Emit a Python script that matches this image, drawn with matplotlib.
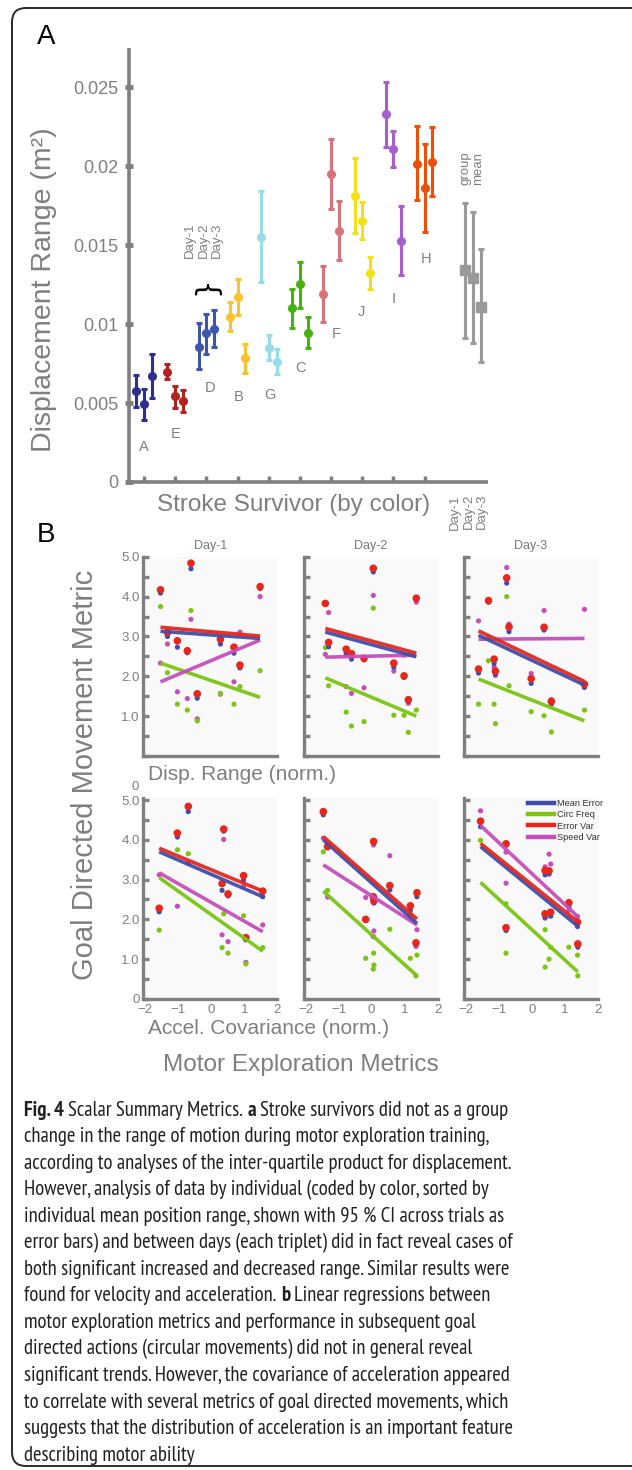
import numpy as np
import matplotlib
matplotlib.use("Agg")
import matplotlib.pyplot as plt
from matplotlib.lines import Line2D
from matplotlib.patches import FancyBboxPatch
from matplotlib import font_manager as fm

# ======================= DATA =======================
# ---- Panel A: displacement range per survivor and day (mean, 95% CI) ----
subjects = ["A", "E", "D", "B", "G", "C", "F", "J", "I", "H"]
subject_colors = ["#2e2e8e", "#b3221f", "#3d55ad", "#fcc22c", "#95dde9",
                  "#45b20f", "#d9727a", "#f5e016", "#a65fcb", "#e8500c"]
day1_mean = [0.00576, 0.00698, 0.00857, 0.01047, 0.01555, 0.01100, 0.01191, 0.01813, 0.02329, 0.02018]
day1_low = [0.00476, 0.00654, 0.00713, 0.00954, 0.01265, 0.00977, 0.01011, 0.01576, 0.02124, 0.01786]
day1_high = [0.00677, 0.00747, 0.01009, 0.01140, 0.01845, 0.01223, 0.01371, 0.02054, 0.02536, 0.02255]
day2_mean = [0.00493, 0.00544, 0.00942, 0.01170, 0.00850, 0.01253, 0.01954, 0.01656, 0.02109, 0.01862]
day2_low = [0.00391, 0.00470, 0.00812, 0.01056, 0.00772, 0.01104, 0.01732, 0.01542, 0.01999, 0.01582]
day2_high = [0.00588, 0.00607, 0.01066, 0.01286, 0.00931, 0.01392, 0.02176, 0.01775, 0.02225, 0.02143]
day3_mean = [0.00673, 0.00514, 0.00971, 0.00783, 0.00761, 0.00945, 0.01591, 0.01322, 0.01527, 0.02027]
day3_low = [0.00533, 0.00444, 0.00857, 0.00692, 0.00683, 0.00846, 0.01405, 0.01221, 0.01312, 0.01811]
day3_high = [0.00810, 0.00582, 0.01090, 0.00874, 0.00842, 0.01043, 0.01781, 0.01424, 0.01749, 0.02251]
group_mean = [0.01343, 0.01291, 0.01110]
group_low = [0.00914, 0.00878, 0.00758]
group_high = [0.01768, 0.01713, 0.01478]
day_labels = ["Day-1", "Day-2", "Day-3"]
a_yticks = [0, 0.005, 0.01, 0.015, 0.02, 0.025]
a_yticklabels = ["0", "0.005", "0.01", "0.015", "0.02", "0.025"]

# ---- Panel B: metrics vs. normalised exploration metrics ----
metric_names = ["Mean Error", "Circ Freq", "Error Var", "Speed Var"]
metric_colors = ["#3f4ea8", "#7cc514", "#e8261c", "#c64fba"]

# top row: Disp. Range (norm.)
disp_x_day1 = [-1.53, -1.32, -1.02, -0.72, -0.61, -0.42, 0.28, 0.69, 0.87, 1.48]
disp_mean_error_day1 = [4.09, 3.00, 2.73, 2.59, 4.70, 1.45, 2.81, 2.58, 2.21, 4.20]
disp_circ_freq_day1 = [3.75, 2.09, 1.30, 1.15, 3.65, 0.88, 1.57, 1.30, 1.74, 2.14]
disp_error_var_day1 = [4.17, 3.10, 2.89, 2.64, 4.84, 1.56, 2.93, 2.73, 2.28, 4.25]
disp_speed_var_day1 = [2.33, 2.81, 1.61, 1.44, 3.43, 0.93, 1.55, 1.86, 3.11, 4.00]
disp_fit_start_day1 = [3.13, 2.33, 3.23, 1.86]
disp_fit_end_day1 = [2.95, 1.47, 3.01, 2.91]

disp_x_day2 = [-1.40, -1.30, -0.77, -0.61, -0.23, 0.05, 0.67, 0.98, 1.11, 1.35]
disp_mean_error_day2 = [3.80, 2.74, 2.58, 2.43, 2.41, 4.62, 2.23, 1.97, 1.37, 3.92]
disp_circ_freq_day2 = [2.72, 1.76, 1.10, 0.75, 0.86, 3.71, 1.02, 1.02, 0.59, 1.15]
disp_error_var_day2 = [3.83, 2.85, 2.68, 2.57, 2.45, 4.71, 2.33, 2.01, 1.41, 3.96]
disp_speed_var_day2 = [2.55, 3.60, 1.74, 1.57, 1.71, 4.03, 2.13, 2.53, 1.32, 3.86]
disp_fit_start_day2 = [3.11, 1.96, 3.20, 2.48]
disp_fit_end_day2 = [2.49, 1.00, 2.58, 2.53]

disp_x_day3 = [-1.61, -1.31, -1.14, -1.10, -0.76, -0.69, -0.02, 0.37, 0.59, 1.59]
disp_mean_error_day3 = [2.08, 3.86, 2.32, 2.05, 4.34, 3.12, 1.82, 3.16, 1.30, 1.72]
disp_circ_freq_day3 = [1.30, 2.39, 1.30, 0.81, 4.00, 1.76, 1.11, 1.01, 0.60, 1.15]
disp_error_var_day3 = [2.18, 3.90, 2.43, 2.13, 4.47, 3.24, 1.94, 3.23, 1.37, 1.80]
disp_speed_var_day3 = [3.39, 2.95, 2.23, 2.02, 4.73, 3.31, 2.07, 3.65, 1.41, 3.68]
disp_fit_start_day3 = [3.03, 1.93, 3.14, 2.93]
disp_fit_end_day3 = [1.78, 0.88, 1.87, 2.95]

# bottom row: Accel. Covariance (norm.)
acc_x_day1 = [-1.57, -1.02, -0.69, 0.33, 0.38, 0.51, 0.98, 1.05, 1.56]
acc_mean_error_day1 = [2.19, 4.07, 4.71, 2.73, 4.22, 2.59, 2.99, 1.49, 2.57]
acc_circ_freq_day1 = [1.73, 3.75, 3.65, 1.29, 2.14, 1.15, 2.09, 0.88, 1.29]
acc_error_var_day1 = [2.28, 4.17, 4.84, 2.90, 4.27, 2.64, 3.10, 1.54, 2.71]
acc_speed_var_day1 = [3.12, 2.33, 3.42, 1.61, 4.01, 1.44, 2.82, 0.92, 1.86]
acc_fit_start_day1 = [3.70, 3.05, 3.79, 3.17]
acc_fit_end_day1 = [2.57, 1.20, 2.71, 1.69]

acc_x_day2 = [-1.46, -1.33, -0.18, 0.05, 0.06, 0.07, 0.55, 1.17, 1.34, 1.37]
acc_mean_error_day2 = [4.63, 3.80, 1.97, 2.43, 3.92, 2.41, 2.74, 2.23, 1.37, 2.57]
acc_circ_freq_day2 = [3.70, 2.73, 1.02, 0.75, 1.15, 0.85, 1.75, 1.02, 0.58, 1.10]
acc_error_var_day2 = [4.71, 3.83, 2.00, 2.57, 3.96, 2.47, 2.85, 2.34, 1.41, 2.67]
acc_speed_var_day2 = [4.04, 2.56, 2.55, 1.57, 3.87, 1.71, 3.60, 2.11, 1.32, 1.74]
acc_fit_start_day2 = [4.00, 2.71, 4.08, 3.37]
acc_fit_end_day2 = [1.90, 0.58, 2.01, 1.86]

acc_x_day3 = [-1.55, -0.78, -0.78, 0.40, 0.40, 0.52, 0.57, 1.12, 1.38, 1.39]
acc_mean_error_day3 = [4.33, 3.86, 1.72, 3.12, 2.05, 3.14, 2.08, 2.32, 1.82, 1.30]
acc_circ_freq_day3 = [3.99, 2.39, 1.15, 1.74, 0.80, 1.00, 1.30, 1.30, 1.10, 0.58]
acc_error_var_day3 = [4.47, 3.90, 1.79, 3.23, 2.14, 3.22, 2.18, 2.42, 1.93, 1.38]
acc_speed_var_day3 = [4.73, 2.91, 3.69, 3.32, 2.03, 3.64, 3.39, 2.23, 2.07, 1.41]
acc_fit_start_day3 = [3.83, 2.93, 3.91, 4.36]
acc_fit_end_day3 = [1.83, 0.68, 1.94, 2.07]

b_yticks = [0, 1, 2, 3, 4, 5]
b_yticklabels = ["0", "1.0", "2.0", "3.0", "4.0", "5.0"]
b_xticks = [-2, -1, 0, 1, 2]

caption_lines = [
    [("Fig. 4", True), ("Scalar Summary Metrics.", False), ("a", True),
     ("Stroke survivors did not as a group", False)],
    [("change in the range of motion during motor exploration training,", False)],
    [("according to analyses of the inter-quartile product for displacement.", False)],
    [("However, analysis of data by individual (coded by color, sorted by", False)],
    [("individual mean position range, shown with 95 % CI across trials as", False)],
    [("error bars) and between days (each triplet) did in fact reveal cases of", False)],
    [("both significant increased and decreased range. Similar results were", False)],
    [("found for velocity and acceleration.", False), ("b", True),
     ("Linear regressions between", False)],
    [("motor exploration metrics and performance in subsequent goal", False)],
    [("directed actions (circular movements) did not in general reveal", False)],
    [("significant trends. However, the covariance of acceleration appeared", False)],
    [("to correlate with several metrics of goal directed movements, which", False)],
    [("suggests that the distribution of acceleration is an important feature", False)],
    [("describing motor ability", False)],
]

# ======================= FIGURE =======================
W, H, DPI = 632, 1470, 100
plt.rcParams["font.family"] = ["Liberation Sans", "DejaVu Sans"]
fig = plt.figure(figsize=(W / DPI, H / DPI), dpi=DPI)
fig.patch.set_facecolor("white")
GRAY = "#808080"
TXT = "#7f7f7f"


def ax_px(l, t, r, b):
    return fig.add_axes([l / W, 1 - b / H, (r - l) / W, (b - t) / H])


def ftext(x, y, s, **kw):
    return fig.text(x / W, 1 - y / H, s, **kw)


# border
border = FancyBboxPatch((12, H - 1466), 660, 1458,
                        boxstyle="round,pad=0,rounding_size=14",
                        transform=None, fill=False, lw=1.4, ec="#2a2a2a")
fig.patches.append(border)

# ---------------- Panel A ----------------
axA = ax_px(129, 48, 488, 482)
axA.set_xlim(0.52, 12.03)
axA.set_ylim(0, 0.0275)
for s in ["top", "right"]:
    axA.spines[s].set_visible(False)
for s in ["left", "bottom"]:
    axA.spines[s].set_color(GRAY)
    axA.spines[s].set_linewidth(2.6)
    axA.spines[s].set_capstyle("butt")
xs = np.arange(1, len(subjects) + 1)
offsets = [-0.25, 0.0, 0.25]
means = [day1_mean, day2_mean, day3_mean]
lows = [day1_low, day2_low, day3_low]
highs = [day1_high, day2_high, day3_high]
for i, col in enumerate(subject_colors):
    for d in range(3):
        m = means[d][i]
        axA.errorbar(xs[i] + offsets[d], m,
                     yerr=[[m - lows[d][i]], [highs[d][i] - m]],
                     fmt="o", color=col, ms=5.5, elinewidth=2.2,
                     capsize=2.3, capthick=2.2, clip_on=False)
gx = len(subjects) + 1.29
for d in range(3):
    m = group_mean[d]
    axA.errorbar(gx + 0.25 * d, m, yerr=[[m - group_low[d]], [group_high[d] - m]],
                 fmt="s", color="#9a9a9a", ms=6.5, elinewidth=2.2,
                 capsize=2.3, capthick=2.2, clip_on=False)
axA.set_yticks(a_yticks)
axA.set_yticklabels(a_yticklabels)
axA.set_xticks(xs)
axA.set_xticklabels([])
axA.tick_params(axis="y", direction="inout", length=6, width=3.5, color=GRAY,
                labelcolor=TXT, labelsize=13, pad=4.5)
axA.tick_params(axis="x", direction="in", length=4, width=2.5, color=GRAY)

# survivor letters (layout positions)
letter_dx = [0, 0, 0.12, 0.04, 0.04, 0.03, 0.15, -0.04, 0.01, 0.04]
letter_y = [0.00223, 0.00302, 0.00594, 0.00539, 0.0055, 0.0072, 0.0094, 0.0108, 0.0116, 0.0141]
for i, name in enumerate(subjects):
    axA.text(xs[i] + letter_dx[i], letter_y[i], name, ha="center", va="center",
             color=TXT, fontsize=10.5)
# brace over triplet D
axA.text(3.0, 0.01245, "}", rotation=90, ha="center", va="center",
         fontsize=21, color="black", family="DejaVu Sans")
for k, lab in enumerate(day_labels):
    ftext(190 + 13.5 * k, 258, lab, rotation=90, ha="center", va="bottom",
          color=TXT, fontsize=9.5)
    ftext(455 + 13.5 * k, 494, lab, rotation=90, ha="center", va="top",
          color=TXT, fontsize=9.5)
ftext(465, 185, "group", rotation=90, ha="center", va="bottom", color=TXT, fontsize=9.5)
ftext(478, 185, "mean", rotation=90, ha="center", va="bottom", color=TXT, fontsize=9.5)
ftext(294, 505, "Stroke Survivor (by color)", ha="center", va="center",
      color=TXT, fontsize=17.5)
ftext(44, 290, "Displacement Range (m²)", rotation=90, ha="center", va="center",
      color=TXT, fontsize=20.5)
ftext(37, 37, "A", ha="left", va="center", fontsize=20, color="black")
ftext(37, 535, "B", ha="left", va="center", fontsize=20, color="black")

# ---------------- Panel B ----------------
panels = [
    [(disp_x_day1, [disp_mean_error_day1, disp_circ_freq_day1, disp_error_var_day1, disp_speed_var_day1],
      disp_fit_start_day1, disp_fit_end_day1),
     (disp_x_day2, [disp_mean_error_day2, disp_circ_freq_day2, disp_error_var_day2, disp_speed_var_day2],
      disp_fit_start_day2, disp_fit_end_day2),
     (disp_x_day3, [disp_mean_error_day3, disp_circ_freq_day3, disp_error_var_day3, disp_speed_var_day3],
      disp_fit_start_day3, disp_fit_end_day3)],
    [(acc_x_day1, [acc_mean_error_day1, acc_circ_freq_day1, acc_error_var_day1, acc_speed_var_day1],
      acc_fit_start_day1, acc_fit_end_day1),
     (acc_x_day2, [acc_mean_error_day2, acc_circ_freq_day2, acc_error_var_day2, acc_speed_var_day2],
      acc_fit_start_day2, acc_fit_end_day2),
     (acc_x_day3, [acc_mean_error_day3, acc_circ_freq_day3, acc_error_var_day3, acc_speed_var_day3],
      acc_fit_start_day3, acc_fit_end_day3)],
]
col_left = [143.3, 303.8, 464.0]
col_w = 134.0
row_tb = [(556.8, 755.9), (798.1, 998.9)]
row_ylim = [(0, 5.0), (0, 5.05)]
point_order = [3, 1, 0, 2]  # speed var, circ freq, mean error, error var
point_size = {0: 14, 1: 14, 2: 30, 3: 14}
line_order = [1, 3, 0, 2]

axes_b = []
for r in range(2):
    for c in range(3):
        t, b = row_tb[r]
        ax = ax_px(col_left[c], t, col_left[c] + col_w, b)
        axes_b.append(ax)
        ax.set_facecolor("#f9f9f9")
        ax.set_xlim(-2.05, 1.95)
        ax.set_ylim(*row_ylim[r])
        for s in ["top", "right"]:
            ax.spines[s].set_visible(False)
        for s in ["left", "bottom"]:
            ax.spines[s].set_color(GRAY)
            ax.spines[s].set_linewidth(2.4)
        x, ys, f0, f1 = panels[r][c]
        x = np.asarray(x)
        for k in point_order:
            ax.scatter(x, ys[k], s=point_size[k], color=metric_colors[k],
                       edgecolors="none", zorder=3, clip_on=False)
        xl = np.array([x.min(), x.max()])
        for k in line_order:
            ax.plot(xl, [f0[k], f1[k]], color=metric_colors[k], lw=2.6,
                    solid_capstyle="butt", zorder=4, alpha=0.95)
        ax.set_yticks(b_yticks)
        ax.set_yticks(np.arange(0.5, 5.0, 1.0), minor=True)
        ax.tick_params(axis="y", which="both", direction="in", length=4, width=2.4,
                       color=GRAY, labelcolor=TXT, labelsize=9.5, pad=2.5,
                       labelleft=(c == 0))
        if c == 0:
            labels = list(b_yticklabels)
            if r == 0:
                labels[0] = ""
            ax.set_yticklabels(labels)
        ax.set_xticks(b_xticks)
        if r == 1:
            ax.tick_params(axis="x", length=0, labelcolor=TXT, labelsize=9.5, pad=4)
        else:
            ax.tick_params(axis="x", length=0, labelbottom=False)
        if r == 0:
            ftext(col_left[c] + col_w / 2, 546, day_labels[c], ha="center",
                  va="center", color="#777777", fontsize=9)

# legend in last panel
handles = [Line2D([0], [0], color=metric_colors[k], lw=3.2) for k in range(4)]
axes_b[5].legend(handles, metric_names, loc="upper left",
                 bbox_to_anchor=(0.475, 0.995), frameon=False, fontsize=6.6,
                 handlelength=2.9, handletextpad=0.3, labelspacing=0.25,
                 borderpad=0, borderaxespad=0, labelcolor="#333333")

ftext(135, 787, "0", ha="center", va="center", color=TXT, fontsize=9.5)
ftext(148, 775, "Disp. Range (norm.)", ha="left", va="center", color=TXT, fontsize=15)
ftext(148, 1029, "Accel. Covariance (norm.)", ha="left", va="center", color=TXT, fontsize=15)
ftext(85, 775, "Goal Directed Movement Metric", rotation=90, ha="center",
      va="center", color=TXT, fontsize=21)
ftext(301, 1065, "Motor Exploration Metrics", ha="center", va="center",
      color=TXT, fontsize=17.6)

# ---------------- Caption ----------------
names = {f.name for f in fm.fontManager.ttflist}
cap_family = "Liberation Sans"
for cand in ["PT Sans Narrow", "Fira Sans Condensed", "Liberation Sans Narrow",
             "Roboto Condensed", "Noto Sans CJK SC"]:
    if cand in names:
        cap_family = cand
        break
renderer = fig.canvas.get_renderer()


def text_width(s, fs, bold=False):
    t = fig.text(0, 0, s, fontsize=fs, family=cap_family,
                 fontweight="bold" if bold else "normal")
    w = t.get_window_extent(renderer=renderer).width
    t.remove()
    return w


base = 12.0
fs_cap = base * 488.0 / text_width(caption_lines[5][0][0], base)
space_w = text_width("x x", fs_cap) - text_width("xx", fs_cap)
for li, segs in enumerate(caption_lines):
    y = 1108 + 26.55 * li
    x = 24.0
    for si, (s, bold) in enumerate(segs):
        if si > 0:
            x += space_w
        ftext(x, y, s, ha="left", va="center_baseline", fontsize=fs_cap, family=cap_family,
              fontweight="bold" if bold else "normal", color="#231f20")
        x += text_width(s, fs_cap, bold)

fig.savefig("out.png", dpi=DPI)
